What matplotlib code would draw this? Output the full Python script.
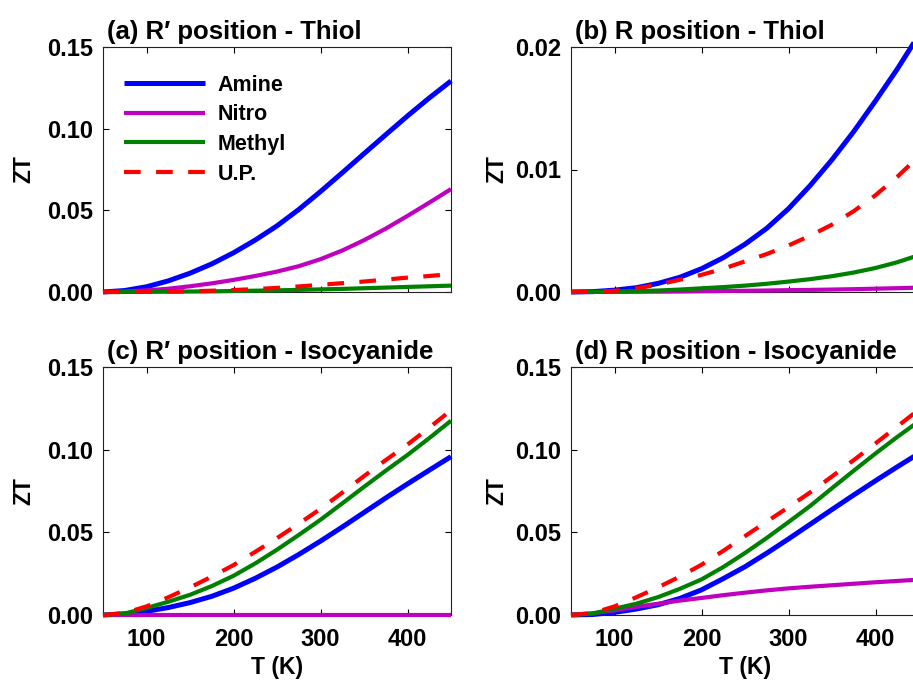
import matplotlib
matplotlib.use('Agg')
import matplotlib.pyplot as plt
from matplotlib.ticker import FormatStrFormatter

plt.rcParams['font.family'] = ['Liberation Sans', 'DejaVu Sans']
plt.rcParams['font.weight'] = 'bold'

# Temperature grid (K)
T = [50, 75, 100, 125, 150, 175, 200, 225, 250, 275, 300, 325, 350, 375, 400, 425, 450]

# (a) R' position - Thiol
a_amine  = [0, 0.0009, 0.0032, 0.0068, 0.0115, 0.0172, 0.024, 0.0318, 0.0405, 0.0505, 0.0615, 0.073, 0.0847, 0.0963, 0.1078, 0.1188, 0.1292]
a_nitro  = [0, 0.0003, 0.001, 0.002, 0.0035, 0.0053, 0.0074, 0.0098, 0.0125, 0.0158, 0.0201, 0.0254, 0.0317, 0.0388, 0.0466, 0.0547, 0.063]
a_methyl = [0, 0, 0.0001, 0.0002, 0.0003, 0.0004, 0.0006, 0.0008, 0.001, 0.0013, 0.0016, 0.0019, 0.0023, 0.0027, 0.0031, 0.0035, 0.0039]
a_up     = [0, 0, 0.0001, 0.0002, 0.0004, 0.0008, 0.0012, 0.0018, 0.0025, 0.0034, 0.0044, 0.0054, 0.0064, 0.0076, 0.0088, 0.0098, 0.011]

# (b) R position - Thiol
b_amine  = [0, 0.00003, 0.00015, 0.00035, 0.0007, 0.0012, 0.0019, 0.0028, 0.0039, 0.0052, 0.0068, 0.0087, 0.0108, 0.0131, 0.0156, 0.0182, 0.021]
b_nitro  = [0, 0.000005, 0.00001, 0.00002, 0.00003, 0.00004, 0.00006, 0.00008, 0.0001, 0.00012, 0.00015, 0.00017, 0.0002, 0.00023, 0.00027, 0.00031, 0.00036]
b_methyl = [0, 0.00001, 0.00003, 0.00007, 0.00012, 0.0002, 0.0003, 0.0004, 0.00052, 0.00067, 0.00085, 0.00105, 0.00129, 0.00159, 0.00196, 0.00243, 0.00301]
b_up     = [0, 0.00002, 0.0001, 0.0003, 0.0006, 0.001, 0.0014, 0.0019, 0.0025, 0.0031, 0.0038, 0.0046, 0.0055, 0.0066, 0.0079, 0.0094, 0.0111]

# (c) R' position - Isocyanide
c_amine  = [0, 0.0007, 0.0022, 0.0045, 0.0075, 0.0113, 0.0162, 0.0222, 0.029, 0.0366, 0.0447, 0.0532, 0.062, 0.0708, 0.0793, 0.0876, 0.0958]
c_nitro  = [0, 0, 0, 0, 0, 0, 0, 0, 0, 0, 0, 0, 0, 0, 0, 0, 0]
c_methyl = [0, 0.0009, 0.0042, 0.008, 0.0122, 0.0175, 0.0237, 0.0312, 0.0395, 0.0484, 0.0576, 0.0675, 0.0775, 0.0873, 0.0968, 0.107, 0.1175]
c_up     = [0, 0.0012, 0.0052, 0.0107, 0.0167, 0.0232, 0.0302, 0.0382, 0.0465, 0.0552, 0.0642, 0.074, 0.084, 0.0937, 0.1031, 0.1133, 0.1238]

# (d) R position - Isocyanide
d_amine  = [0, 0.0003, 0.0016, 0.0036, 0.0062, 0.01, 0.0152, 0.022, 0.0292, 0.0374, 0.046, 0.0549, 0.0638, 0.0726, 0.0812, 0.0896, 0.0978]
d_nitro  = [0, 0.001, 0.0028, 0.005, 0.0068, 0.0087, 0.0103, 0.012, 0.0135, 0.0149, 0.0161, 0.0171, 0.018, 0.0189, 0.0198, 0.0206, 0.0214]
d_methyl = [0, 0.0009, 0.0038, 0.0068, 0.0108, 0.0158, 0.0215, 0.029, 0.0375, 0.0466, 0.0562, 0.066, 0.0767, 0.0873, 0.0977, 0.1077, 0.1172]
d_up     = [0, 0.0012, 0.0052, 0.0107, 0.0167, 0.0232, 0.0304, 0.0388, 0.0477, 0.0565, 0.0652, 0.0742, 0.0838, 0.0937, 0.1038, 0.114, 0.1243]

labels = ['Amine', 'Nitro', 'Methyl', 'U.P.']
colors = ['#0000FF', '#BF00BF', '#008000', '#FF0000']
titles = ["(a) R\u2032 position - Thiol", "(b) R position - Thiol",
          "(c) R\u2032 position - Isocyanide", "(d) R position - Isocyanide"]
panels = [
    (a_amine, a_nitro, a_methyl, a_up),
    (b_amine, b_nitro, b_methyl, b_up),
    (c_amine, c_nitro, c_methyl, c_up),
    (d_amine, d_nitro, d_methyl, d_up),
]
ylims = [0.15, 0.02, 0.15, 0.15]
yticks = [[0, 0.05, 0.10, 0.15], [0, 0.01, 0.02], [0, 0.05, 0.10, 0.15], [0, 0.05, 0.10, 0.15]]
xticks = [100, 200, 300, 400]

fig = plt.figure(figsize=(9.13, 6.83), dpi=100)
rects = [
    [103/913, 1-292/683, 348/913, 245/683],
    [571/913, 1-292/683, 348/913, 245/683],
    [103/913, 1-615/683, 348/913, 248/683],
    [571/913, 1-615/683, 348/913, 248/683],
]

for i, (rect, data) in enumerate(zip(rects, panels)):
    ax = fig.add_axes(rect)
    lines = []
    for j, (vals, lab, col) in enumerate(zip(data, labels, colors)):
        if j == 3:
            ln, = ax.plot(T, vals, color=col, lw=3.0, dashes=(4, 3.7), label=lab,
                          clip_on=False, zorder=3 + j)
        else:
            ln, = ax.plot(T, vals, color=col, lw=3.6 if j == 0 else 3.0, label=lab,
                          clip_on=False, solid_capstyle='butt', solid_joinstyle='round',
                          zorder=3 + j)
        lines.append(ln)
    ax.set_xlim(50, 450)
    ax.set_ylim(0, ylims[i])
    ax.set_xticks(xticks)
    ax.set_yticks(yticks[i])
    ax.yaxis.set_major_formatter(FormatStrFormatter('%.2f'))
    ax.tick_params(direction='in', top=True, right=True, length=4, width=0.8,
                   labelsize=17, colors='black')
    ax.tick_params(axis='y', pad=7)
    ax.tick_params(axis='x', pad=9)
    for lab in ax.get_xticklabels() + ax.get_yticklabels():
        lab.set_fontweight('bold')
    for sp in ax.spines.values():
        sp.set_linewidth(0.8)
        sp.set_color('#222222')
    if i < 2:
        ax.tick_params(labelbottom=False)
    else:
        ax.set_xlabel('T (K)', fontsize=16.5, fontweight='bold', labelpad=4)
    ax.set_ylabel('ZT', fontsize=16.5, fontweight='bold')
    ax.yaxis.set_label_coords(-0.193 if i % 2 == 0 else -0.181, 0.5)
    ax.set_title(titles[i], loc='left', fontsize=18.5, fontweight='bold', pad=5.5, x=0.011)
    if i == 0:
        ax.legend(handles=lines, loc='upper left', bbox_to_anchor=(0.06, 0.887),
                  frameon=False, handlelength=3.75,
                  handletextpad=0.6, labelspacing=0.4, borderpad=0,
                  borderaxespad=0, prop={'weight': 'bold', 'size': 15.5})

fig.savefig('out.png', dpi=100)
